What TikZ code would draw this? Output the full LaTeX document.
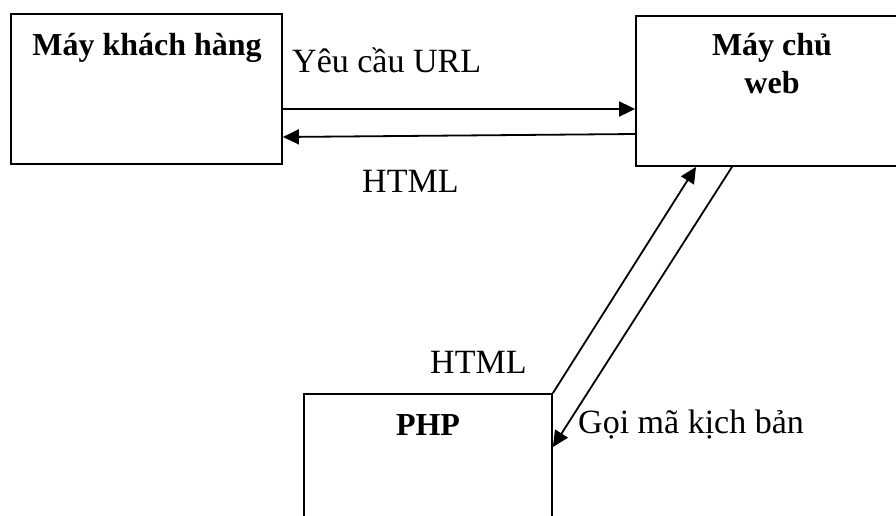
\documentclass[tikz,border=0pt]{standalone}
\usepackage{fontspec}
\setmainfont{Liberation Serif}
\usetikzlibrary{arrows.meta,positioning}
\tikzset{
  box/.style={draw, line width=1.8pt, inner sep=0pt},
  title/.style={font=\fontsize{32}{38}\selectfont\bfseries, anchor=base, align=center},
  lbl/.style={font=\fontsize{34}{40}\selectfont, anchor=base west, inner sep=0pt},
  arr/.style={line width=1.8pt, -{Triangle[length=16pt,width=15pt]}}
}
\begin{document}
\begin{tikzpicture}[x=1pt,y=-1pt]
\useasboundingbox (0,0) rectangle (896,515);
\clip (0,0) rectangle (896,515);
% boxes
\node[box, minimum width=271pt, minimum height=150pt] (client) at (146.5,89) {};
\node[box, minimum width=272pt, minimum height=150pt] (server) at (772,91) {};
\node[box, minimum width=248pt, minimum height=150pt] (php) at (428,469) {};
\node[title] (clientT) at (147,55) {Máy khách hàng};
\node[title] (serverT) at (772,93) {Máy chủ\\web};
\node[title] (phpT) at (428,435) {PHP};
% requests and answers
\draw[arr] ([yshift=-20pt]client.east) -- ([yshift=-18pt]server.west);
\draw[arr] ([yshift=-43pt]server.west) -- ([yshift=-48pt]client.east);
\draw[arr] (php.north east) -- ([xshift=-76pt]server.south);
\draw[arr] ([xshift=-40pt]server.south) -- ([yshift=22pt]php.east);
% labels
\node[lbl] (urlL) at (292,72) {Yêu cầu URL};
\node[lbl] (htmlA) at (362,192) {HTML};
\node[lbl] (htmlB) at (430,373) {HTML};
\node[lbl] (callL) at (578,433) {Gọi mã kịch bản};
\end{tikzpicture}
\end{document}
